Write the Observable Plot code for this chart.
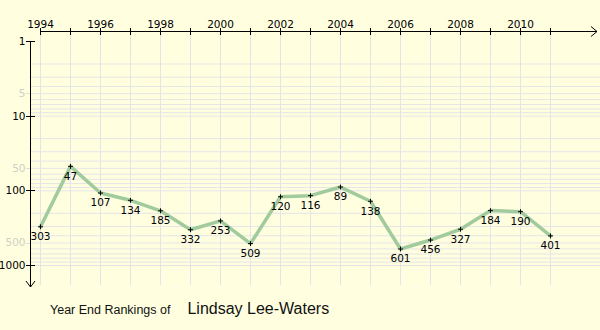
<!DOCTYPE html>
<html>
<head>
<meta charset="utf-8">
<script src="https://cdn.jsdelivr.net/npm/d3@7"></script>
<script src="https://cdn.jsdelivr.net/npm/@observablehq/plot@0.6"></script>
<style>
  html, body { margin: 0; padding: 0; background: #ffffe0; }
  #wrap { position: relative; width: 600px; height: 330px; overflow: hidden; }
  #title { position: absolute; left: 50px; top: 300px; font-family: "Liberation Sans", Arial, sans-serif; color: #111; white-space: nowrap; }
  #title .a { font-size: 12.5px; }
  #title .b { font-size: 16px; margin-left: 17px; }
</style>
</head>
<body>
<div id="wrap">
  <div id="chart"></div>
  <div id="title"><span class="a">Year End Rankings of</span><span class="b">Lindsay Lee-Waters</span></div>
</div>
<script>
const years = [1994,1995,1996,1997,1998,1999,2000,2001,2002,2003,2004,2005,2006,2007,2008,2009,2010,2011];
const ranks = [303,47,107,134,185,332,253,509,120,116,89,138,601,456,327,184,190,401];
const yearLabels = [1994,1996,1998,2000,2002,2004,2006,2008,2010];
const majorRankTicks = [1,10,100,1000];
const minorRankTicks = [5,50,500];
const gridRanks = [2,3,4,5,6,7,8,9,10,20,30,40,50,60,70,80,90,100,200,300,400,500,600,700,800,900,1000];

const data = years.map((y, i) => ({year: y, rank: ranks[i]}));

const gridColor = "#e4e4e8";
const chart = Plot.plot({
  width: 600,
  height: 295,
  marginLeft: 30,
  marginRight: 0,
  marginTop: 31,
  marginBottom: 10,
  style: {background: "transparent", fontFamily: "DejaVu Sans, sans-serif", fontSize: "10.5px", overflow: "visible", color: "black"},
  x: {domain: [1994, 2011], range: [40, 550], axis: null},
  y: {type: "log", domain: [1, 1000], range: [41, 265], axis: null},
  marks: [
    Plot.ruleY(gridRanks, {y: d => d, stroke: gridColor, strokeWidth: 1}),
    Plot.ruleX(years, {x: d => d, stroke: gridColor, strokeWidth: 1}),
    Plot.line(data, {x: "year", y: "rank", stroke: "#a2cb9d", strokeWidth: 3.5, strokeLinejoin: "round"}),
    Plot.dot(data, {x: "year", y: "rank", symbol: "plus", r: 1.7, stroke: "black", strokeWidth: 1}),
    Plot.text(data, {x: "year", y: "rank", text: d => String(d.rank), dy: 10, fill: "black"}),
    Plot.text(yearLabels, {x: d => d, frameAnchor: "top", dy: -11, text: d => String(d), fill: "black"}),
    Plot.text(majorRankTicks, {y: d => d, frameAnchor: "left", dx: -5, textAnchor: "end", text: d => String(d), fill: "black"}),
    Plot.text(minorRankTicks, {y: d => d, frameAnchor: "left", dx: -5, textAnchor: "end", text: d => String(d), fill: "#cfcfc4"})
  ]
});
document.getElementById("chart").appendChild(chart);

// axis lines, ticks and arrows from Plot's scales
const sx = chart.scale("x"), sy = chart.scale("y");
const svg = d3.select(chart);
const g = svg.append("g").attr("stroke", "black").attr("fill", "none").attr("stroke-width", 1);
const xAxisY = 31.5, yAxisX = 30.5;
const xStart = Math.round(sx.apply(1994)) + 0.5;
g.append("line").attr("x1", xStart).attr("x2", 597).attr("y1", xAxisY).attr("y2", xAxisY);
g.append("path").attr("d", `M591,26.5L597,${xAxisY}L591,36.5`);
years.forEach(y => {
  const px = Math.round(sx.apply(y)) + 0.5;
  g.append("line").attr("x1", px).attr("x2", px).attr("y1", 28).attr("y2", 35);
});
const yTop = Math.round(sy.apply(1)) + 0.5;
g.append("line").attr("x1", yAxisX).attr("x2", yAxisX).attr("y1", yTop).attr("y2", 287);
g.append("path").attr("d", `M26,281L${yAxisX},287L35,281`);
majorRankTicks.forEach(v => {
  const py = Math.round(sy.apply(v)) + 0.5;
  g.append("line").attr("x1", 26).attr("x2", 35).attr("y1", py).attr("y2", py);
});
minorRankTicks.forEach(v => {
  const py = Math.round(sy.apply(v)) + 0.5;
  g.append("line").attr("x1", 26).attr("x2", 30).attr("y1", py).attr("y2", py).attr("stroke", "#e0e0d0");
});
</script>
</body>
</html>
